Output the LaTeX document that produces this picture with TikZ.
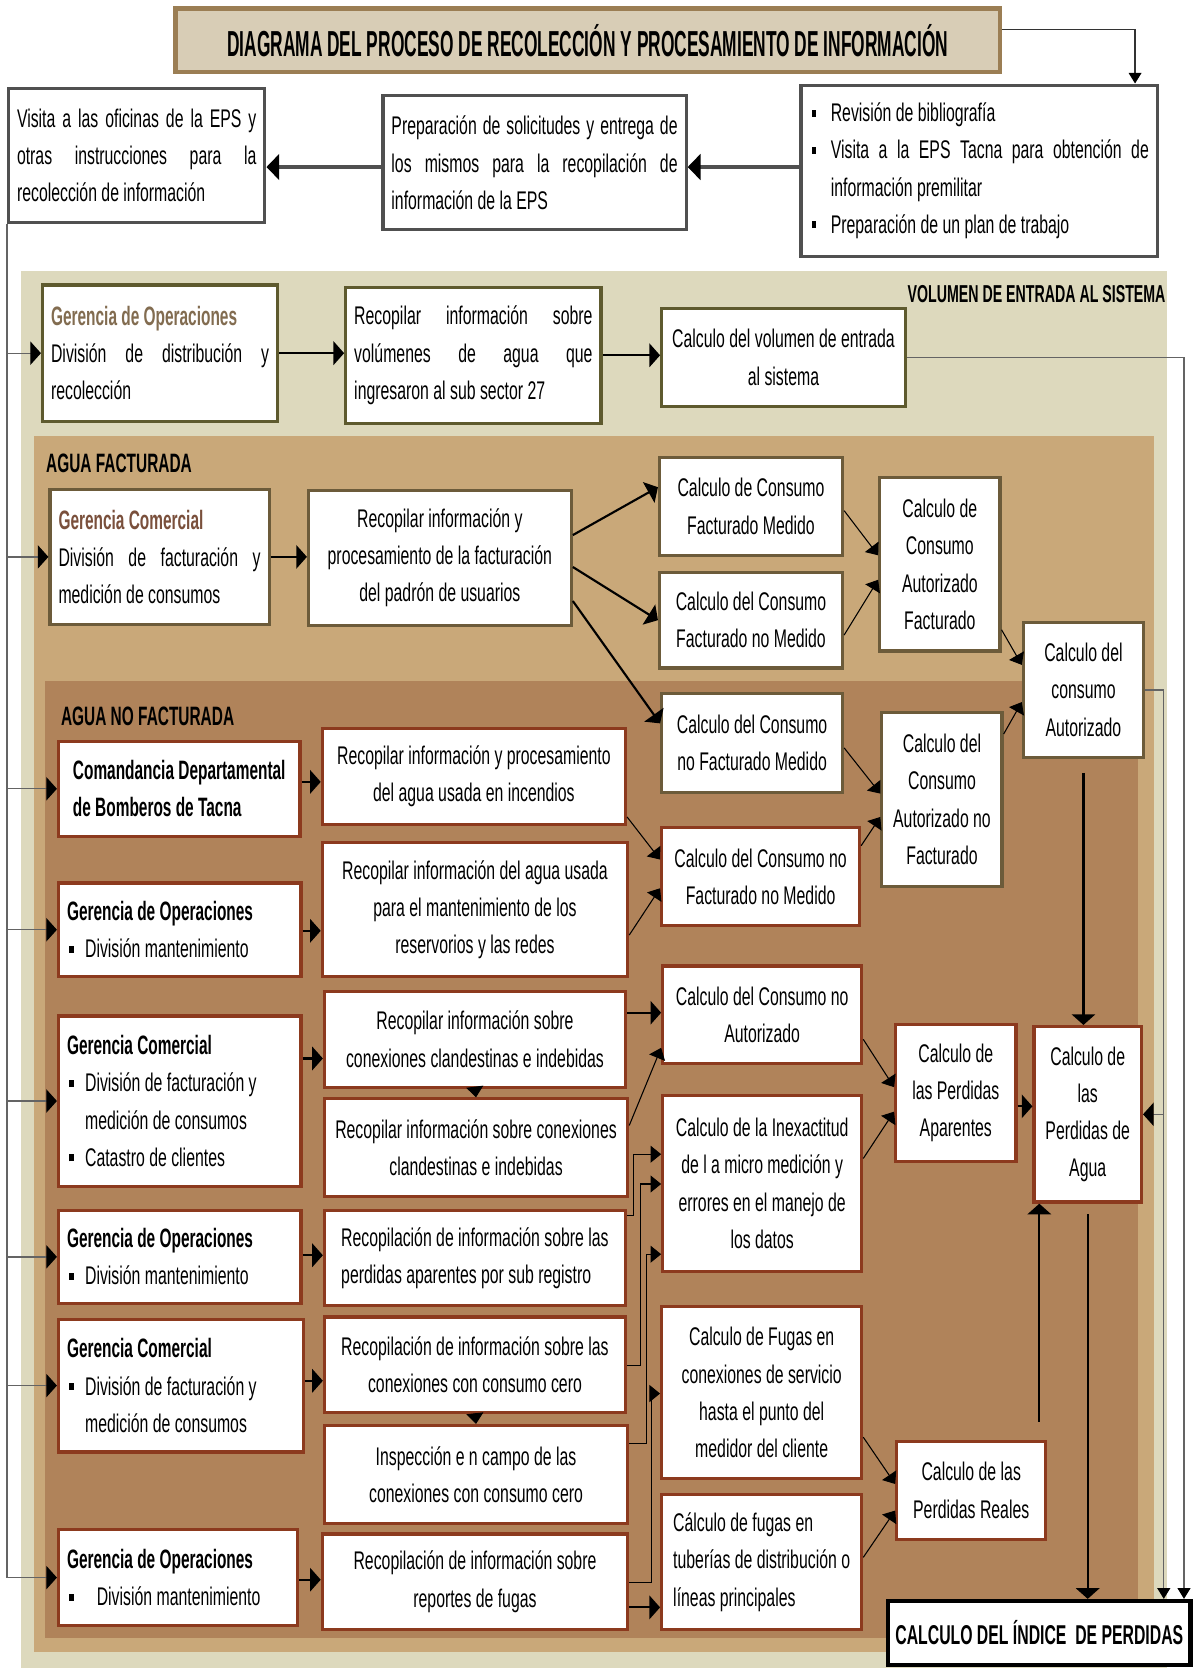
\documentclass[tikz,border=0pt]{standalone}
\usepackage{fontspec}
\setmainfont{Liberation Sans}[FakeStretch=0.62]
\newfontfamily\hdf{Liberation Sans Bold}[FakeStretch=0.58]
\newfontfamily\ttlf{Liberation Sans Bold}[FakeStretch=0.48]
\usetikzlibrary{arrows.meta,calc}
\hyphenpenalty=10000
\exhyphenpenalty=10000
\definecolor{pLight}{RGB}{221,217,189}
\definecolor{pTan}{RGB}{201,168,121}
\definecolor{pBrown}{RGB}{176,131,90}
\definecolor{tFill}{RGB}{216,205,182}
\definecolor{tDraw}{RGB}{155,126,84}
\definecolor{gDraw}{RGB}{80,80,80}
\definecolor{oDraw}{RGB}{94,90,46}
\definecolor{afDraw}{RGB}{108,91,58}
\definecolor{rDraw}{RGB}{140,58,30}
\definecolor{gopC}{RGB}{130,108,80}
\definecolor{gcomC}{RGB}{122,80,60}
\definecolor{lineG}{RGB}{100,100,100}
\newcommand\sqb{\rule[2.4pt]{2.2pt}{3.2pt}}
\newcommand\bitem[2][9pt]{\noindent\hangindent=#1\hangafter=1\makebox[#1][l]{\hspace{1pt}\sqb}#2\par}
\newcommand\hd[1]{{\hdf\fontsize{12.5}{17.5}\selectfont #1}}
% box with text width (justified / bullet text)
\newcommand\bx[7]{%
  \pgfmathsetmacro\myBW{(#5-#3)*0.5}%
  \pgfmathsetmacro\myBH{(#6-#4)*0.5}%
  \pgfmathsetmacro\myTW{(#5-#3)*0.5-8}%
  \node[#1,minimum width=\myBW pt,minimum height=\myBH pt,text width=\myTW pt] (#2) at ({(#3+#5)/2},{(#4+#6)/2}) {#7};}
% box with explicit lines
\newcommand\cbx[7]{%
  \pgfmathsetmacro\myBW{(#5-#3)*0.5}%
  \pgfmathsetmacro\myBH{(#6-#4)*0.5}%
  \node[align=center,#1,minimum width=\myBW pt,minimum height=\myBH pt] (#2) at ({(#3+#5)/2},{(#4+#6)/2}) {#7};}
\begin{document}
\begin{tikzpicture}[x=0.5pt,y=-0.5pt,
  bxs/.style={draw,fill=white,line width=1.5pt,inner xsep=4pt,inner ysep=1pt,font=\fontsize{12}{17.5}\selectfont},
  gbox/.style={bxs,draw=gDraw},
  obox/.style={bxs,draw=oDraw},
  abox/.style={bxs,draw=afDraw},
  rbox/.style={bxs,draw=rDraw},
  barr/.style={line width=1pt,-{Triangle[length=5pt,width=11pt]}},
  tarr/.style={line width=0.5pt,-{Triangle[length=5pt,width=8pt]}},
  garr/.style={draw=lineG,line width=0.6pt,-{Triangle[length=5pt,width=11pt,color=black]}},
  sarr/.style={draw=lineG,line width=0.6pt,-{Triangle[length=5pt,width=6pt,color=black]}},
  lbl/.style={font=\hdf\fontsize{12.5}{14}\selectfont,inner sep=0pt}
]
\useasboundingbox (0,0) rectangle (1121,1568);
% panels
\fill[pLight] (20,255) rectangle (1097,1568);
\fill[pTan] (32,410) rectangle (1085,1553);
\fill[pBrown] (42,640) rectangle (1070,1540);
\node[lbl,anchor=west] (lafa) at (43,436) {AGUA FACTURADA};
\node[lbl,anchor=west] (lanf) at (57,673) {AGUA NO FACTURADA};
\node[lbl,anchor=east,font=\hdf\fontsize{11.5}{13}\selectfont] (lvol) at (1096,276) {VOLUMEN DE ENTRADA AL SISTEMA};
% title
\node[draw=tDraw,fill=tFill,line width=2pt,minimum width=387.5pt,minimum height=30pt,inner sep=0pt,font=\ttlf\fontsize{17}{20}\selectfont] (ttl) at (552.5,38) {DIAGRAMA DEL PROCESO DE RECOLECCIÓN Y PROCESAMIENTO DE INFORMACIÓN};
% top row
\bx{gbox,align=justify}{b1}{8}{83}{249}{209}{Visita a las oficinas de la EPS y \linebreak otras instrucciones para la \linebreak recolección de información}
\bx{gbox,align=justify}{b2}{360}{90}{645}{216}{Preparación de solicitudes y entrega de \linebreak los mismos para la recopilación de \linebreak información de la EPS}
\bx{gbox,align=justify}{b3}{753}{80}{1088}{241}{\bitem[10pt]{Revisión de bibliografía}\bitem[10pt]{Visita a la EPS Tacna para obtención de \linebreak información premilitar}\bitem[10pt]{Preparación de un plan de trabajo}}
% volumen
\bx{obox,align=justify}{v1}{40}{268}{261}{396}{{\color{gopC}\hdf\fontsize{12.5}{17.5}\selectfont Gerencia de Operaciones}\\División de distribución y \linebreak recolección}
\bx{obox,align=justify}{v2}{325}{270}{565}{398}{Recopilar información sobre \linebreak volúmenes de agua que \linebreak ingresaron al sub sector 27}
\cbx{obox}{v3}{622}{290}{851}{382}{Calculo del volumen de entrada\\al sistema}
% agua facturada
\bx{abox,align=justify}{af1}{47}{460}{253}{587}{{\color{gcomC}\hdf\fontsize{12.5}{17.5}\selectfont Gerencia Comercial}\\División de facturación y \linebreak medición de consumos}
\cbx{abox}{af2}{290}{461}{537}{588}{Recopilar información y\\procesamiento de la facturación\\del padrón de usuarios}
\cbx{abox}{af3}{620}{430}{792}{522}{Calculo de Consumo\\Facturado Medido}
\cbx{abox}{af4}{620}{538}{792}{628}{Calculo del Consumo\\Facturado no Medido}
\cbx{abox}{af5}{827}{449}{940}{612}{Calculo de\\Consumo\\Autorizado\\Facturado}
\cbx{abox}{af6}{962}{585}{1075}{712}{Calculo del\\consumo\\Autorizado}
% agua no facturada - left
\cbx{rbox,align=left}{n1}{55}{697}{282}{786}{\hd{Comandancia Departamental}\\\hd{de Bomberos de Tacna}}
\bx{rbox,align=flush left}{n2}{55}{830}{283}{918}{\hd{Gerencia de Operaciones}\par\bitem[8.5pt]{División mantenimiento}}
\bx{rbox,align=flush left}{n3}{55}{955}{283}{1115}{\hd{Gerencia Comercial}\par\bitem[8.5pt]{División de facturación y medición de consumos}\bitem[8.5pt]{Catastro de clientes}}
\bx{rbox,align=flush left}{n4}{55}{1138}{283}{1225}{\hd{Gerencia de Operaciones}\par\bitem[8.5pt]{División mantenimiento}}
\bx{rbox,align=flush left}{n5}{55}{1240}{285}{1365}{\hd{Gerencia Comercial}\par\bitem[8.5pt]{División de facturación y medición de consumos}}
\bx{rbox,align=flush left}{n6}{55}{1438}{280}{1528}{\hd{Gerencia de Operaciones}\par\bitem[14pt]{División mantenimiento}}
% middle
\cbx{rbox}{m1}{303}{685}{588}{775}{Recopilar información y procesamiento\\del agua usada en incendios}
\cbx{rbox}{m2}{303}{792}{590}{918}{Recopilar información del agua usada\\para el mantenimiento de los\\reservorios y las redes}
\cbx{rbox}{m3}{305}{932}{588}{1022}{Recopilar información sobre\\conexiones clandestinas e indebidas}
\cbx{rbox}{m4}{305}{1033}{590}{1125}{Recopilar información sobre conexiones\\clandestinas e indebidas}
\cbx{rbox,align=left}{m5}{305}{1138}{588}{1227}{Recopilación de información sobre las\\perdidas aparentes por sub registro}
\cbx{rbox}{m6}{305}{1238}{588}{1328}{Recopilación de información sobre las\\conexiones con consumo cero}
\cbx{rbox}{m7}{305}{1340}{590}{1432}{Inspección e n campo de las\\conexiones con consumo cero}
\cbx{rbox}{m8}{303}{1442}{590}{1532}{Recopilación de información sobre\\reportes de fugas}
% right
\cbx{abox}{c1}{622}{652}{792}{745}{Calculo del Consumo\\no Facturado Medido}
\cbx{rbox}{c2}{622}{778}{808}{870}{Calculo del Consumo no\\Facturado no Medido}
\cbx{abox}{c3}{829}{670}{942}{833}{Calculo del\\Consumo\\Autorizado no\\Facturado}
\cbx{rbox}{c4}{623}{908}{810}{1000}{Calculo del Consumo no\\Autorizado}
\cbx{rbox}{c5}{623}{1030}{810}{1195}{Calculo de la Inexactitud\\de l a micro medición y\\errores en el manejo de\\los datos}
\cbx{rbox}{c6}{622}{1228}{810}{1390}{Calculo de Fugas en\\conexiones de servicio\\hasta el punto del\\medidor del cliente}
\cbx{rbox,align=left}{c7}{622}{1405}{810}{1532}{Cálculo de fugas en\\tuberías de distribución o\\líneas principales}
\cbx{rbox}{d1}{842}{963}{955}{1092}{Calculo de\\las Perdidas\\Aparentes}
\cbx{rbox}{d2}{972}{965}{1073}{1130}{Calculo de\\las\\Perdidas de\\Agua}
\cbx{rbox}{d3}{843}{1355}{983}{1447}{Calculo de las\\Perdidas Reales}
\node[draw=black,line width=2pt,fill=white,minimum width=142pt,minimum height=30pt,inner sep=0pt,font=\hdf\fontsize{12.8}{15}\selectfont] (fin) at (977,1535) {CALCULO DEL ÍNDICE\ \ DE PERDIDAS};
% coordinates
\coordinate (xa) at (1113,0);
\coordinate (xb) at (1094,0);
\coordinate (xr) at (977,0);
% top connectors
\draw[line width=1.5pt,draw=gDraw,-{Triangle[length=6pt,width=12pt,color=black]}] (b3.west |- 0,157) -- (b2.east |- 0,157);
\draw[line width=1.5pt,draw=gDraw,-{Triangle[length=6pt,width=12pt,color=black]}] (b2.west |- 0,157) -- (b1.east |- 0,157);
\draw[sarr,draw=black!80] (ttl.east |- 0,28) -| (b3.north -| 1067,0);
% left trunk
\draw[draw=lineG,line width=0.6pt] (b1.south west) -- (b1.south west |- n6.west);
\foreach \t in {v1,af1,n1,n2,n3,n4,n5,n6} \draw[garr] (b1.south west |- \t.west) -- (\t.west);
% right collectors
\draw[sarr] (v3.east) -| (xa |- fin.north);
\draw[sarr] (af6.east) -| (xb |- fin.north);
\draw[garr] (xb |- d2.east) -- (d2.east);
% main flows
\draw[barr] (v1.east) -- (v2.west |- v1.east);
\draw[barr] (v2.east) -- (v3.west |- v2.east);
\draw[barr] (af1.east) -- (af2.west |- af1.east);
\draw[barr] (af2.east |- 0,503) -- (af3.west |- 0,458);
\draw[barr] (af2.east |- 0,533) -- (af4.west |- 0,583);
\draw[barr] (af2.east |- 0,565) -- (c1.west |- 0,680);
\draw[barr] (n1.east |- 0,735) -- (m1.west |- 0,735);
\draw[barr] (n2.east |- 0,875) -- (m2.west |- 0,875);
\draw[barr] (n3.east |- 0,995) -- (m3.west |- 0,995);
\draw[barr] (n4.east |- 0,1180) -- (m5.west |- 0,1180);
\draw[barr] (n5.east |- 0,1298) -- (m6.west |- 0,1298);
\draw[barr] (n6.east |- 0,1485) -- (m8.west |- 0,1485);
\draw[barr] (m3.east |- 0,952) -- (c4.west |- 0,952);
\draw[barr] (m8.east |- 0,1511) -- (c7.west |- 0,1511);
\draw[-{Triangle[length=5pt,width=8pt]}] (m3.south) -- (m4.north);
\draw[-{Triangle[length=5pt,width=8pt]}] (m6.south) -- (m7.north);
\draw[barr] ($(af6.south)+(0,13)$) -- (d2.north -| af6.south);
\draw[barr] ($(d2.south)+(0,10)$) -- (fin.north -| d2.south);
\draw[barr] ($(xr |- d3.north)+(0,-17)$) -- (xr |- d2.south);
\draw[barr] (d1.east |- 0,1040) -- (d2.west |- 0,1040);
% thin diagonals
\draw[tarr] (af3.east |- 0,480) -- (af5.west |- 0,522);
\draw[tarr] (af4.east |- 0,597) -- (af5.west |- 0,545);
\draw[tarr] (af5.east |- 0,592) -- (af6.west |- 0,625);
\draw[tarr] (c3.east |- 0,690) -- (af6.west |- 0,660);
\draw[tarr] (c1.east |- 0,703) -- (c3.west |- 0,746);
\draw[tarr] (c2.east |- 0,795) -- (c3.west |- 0,768);
\draw[tarr] (m1.east |- 0,768) -- (c2.west |- 0,808);
\draw[tarr] (m2.east |- 0,879) -- (c2.west |- 0,835);
\draw[tarr] (m4.east |- 0,1058) -- (c4.west |- 0,985);
\draw[tarr] (c4.east |- 0,977) -- (d1.west |- 0,1022);
\draw[tarr] (c5.east |- 0,1089) -- (d1.west |- 0,1045);
\draw[tarr] (c6.east |- 0,1351) -- (d3.west |- 0,1395);
\draw[tarr] (c7.east |- 0,1464) -- (d3.west |- 0,1420);
% elbows
\draw[tarr] (m5.east |- 0,1143) -- ++(6,0) |- (c5.west |- 0,1085);
\draw[tarr] (m6.east |- 0,1284) -- ++(13,0) |- (c5.west |- 0,1113);
\draw[tarr] (m7.east |- 0,1357) -- ++(16,0) |- (c5.west |- 0,1179);
\draw[tarr] (m8.east |- 0,1488) -- ++(21,0) |- (c6.west |- 0,1310);
\end{tikzpicture}
\end{document}
